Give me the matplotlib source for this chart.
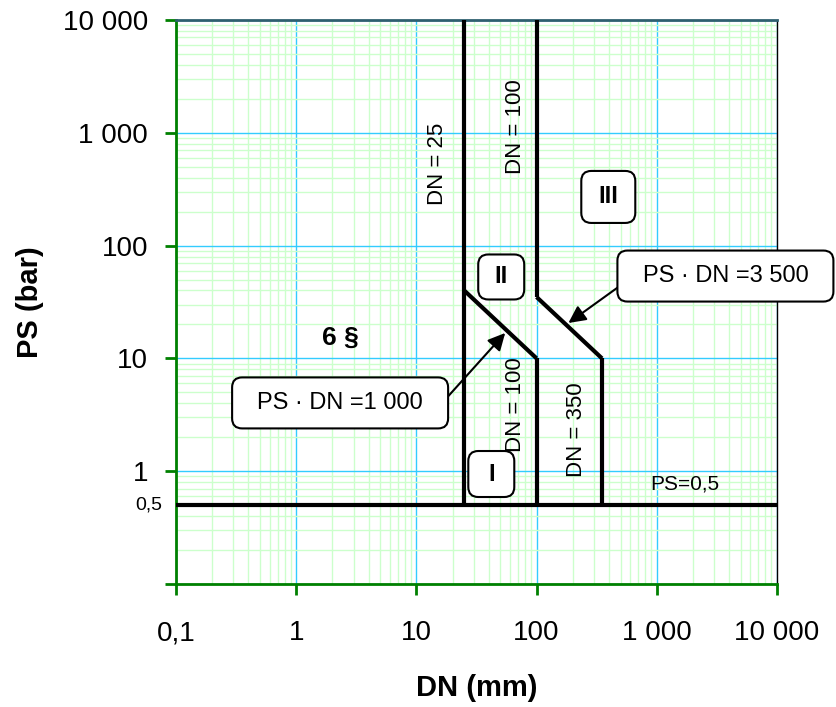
import matplotlib.pyplot as plt
from matplotlib.ticker import NullFormatter, LogLocator
from matplotlib.patches import FancyBboxPatch
from matplotlib.transforms import ScaledTranslation, IdentityTransform

plt.rcParams['font.family'] = ['Liberation Sans', 'DejaVu Sans']

# Grenzlinien (DN in mm, PS in bar)
ps_limit_dn = [0.1, 10000]
ps_limit_ps = [0.5, 0.5]
dn25_dn = [25, 25]
dn25_ps = [0.5, 10000]
pd1000_dn = [25, 100]
pd1000_ps = [40, 10]
dn100_low_dn = [100, 100]
dn100_low_ps = [0.5, 10]
dn100_up_dn = [100, 100]
dn100_up_ps = [35, 10000]
pd3500_dn = [100, 350]
pd3500_ps = [35, 10]
dn350_dn = [350, 350]
dn350_ps = [0.5, 10]

x_ticks = [0.1, 1, 10, 100, 1000, 10000]
x_labels = ['0,1', '1', '10', '100', '1 000', '10 000']
y_ticks = [0.1, 1, 10, 100, 1000, 10000]
y_labels = ['', '1', '10', '100', '1 000', '10 000']

fig = plt.figure(figsize=(8.36, 7.07), dpi=100)
ax = fig.add_axes([0.2105, 0.174, 0.7189, 0.7977])
ax.set_xscale('log')
ax.set_yscale('log')
ax.set_xlim(0.1, 10000)
ax.set_ylim(0.1, 10000)

# Gitter
ax.xaxis.set_minor_locator(LogLocator(base=10, subs=range(2, 10), numticks=20))
ax.yaxis.set_minor_locator(LogLocator(base=10, subs=range(2, 10), numticks=20))
ax.xaxis.set_minor_formatter(NullFormatter())
ax.yaxis.set_minor_formatter(NullFormatter())
ax.grid(which='minor', color='#ccffcc', lw=1)
ax.grid(which='major', color='#33ccff', lw=1)
ax.set_axisbelow(True)

lw = 3
for xs, ys in [(ps_limit_dn, ps_limit_ps), (dn25_dn, dn25_ps), (pd1000_dn, pd1000_ps),
               (dn100_low_dn, dn100_low_ps), (dn100_up_dn, dn100_up_ps),
               (pd3500_dn, pd3500_ps), (dn350_dn, dn350_ps)]:
    ax.plot(xs, ys, color='black', lw=lw, solid_capstyle='butt', clip_on=False, zorder=3)

ax.set_xticks(x_ticks)
ax.set_xticklabels(x_labels, fontsize=20)
ax.set_yticks(y_ticks)
ax.set_yticklabels(y_labels, fontsize=20)
ax.tick_params(which='major', direction='out', length=8, width=2, color='#008000')
ax.tick_params(axis='x', pad=18)
ax.tick_params(axis='y', pad=12)
ax.tick_params(which='minor', length=0)
# 0,5 label next to the axis
ax.text(-0.023, 0.5, '0,5', fontsize=14, ha='right', va='center',
        transform=ax.get_yaxis_transform())

for side in ['left', 'bottom']:
    ax.spines[side].set_color('#008000')
    ax.spines[side].set_linewidth(2)
ax.spines['top'].set_color('#2f6070')
ax.spines['top'].set_linewidth(2)
ax.spines['right'].set_color('black')
ax.spines['right'].set_linewidth(1)

ax.set_xlabel('DN (mm)', fontsize=21, fontweight='bold', labelpad=20)
ax.set_ylabel('PS (bar)', fontsize=21, fontweight='bold', labelpad=14)

# Beschriftungen
ax.text(14.9, 529, 'DN = 25', rotation=90, fontsize=16, ha='center', va='center')
ax.text(66.5, 1125, 'DN = 100', rotation=90, fontsize=16, ha='center', va='center')
ax.text(66.5, 3.86, 'DN = 100', rotation=90, fontsize=16, ha='center', va='center')
ax.text(214, 2.32, 'DN = 350', rotation=90, fontsize=16, ha='center', va='center')
ax.text(1700, 0.77, 'PS=0,5', fontsize=15, ha='center', va='center')
ax.text(2.32, 15.2, '6 §', fontsize=19, fontweight='bold', ha='center', va='center')


def box_at(xx, yy, w, h, z=4):
    # abgerundeter Kasten, Groesse in Pixeln, Mitte in Datenkoordinaten
    tr = IdentityTransform() + ScaledTranslation(xx, yy, ax.transData)
    p = FancyBboxPatch((-w / 2, -h / 2), w, h, boxstyle='round,pad=0,rounding_size=10',
                       fc='white', ec='black', lw=1.5, transform=tr, zorder=z, clip_on=False)
    ax.add_patch(p)


# Bereiche I, II, III
for txt, xx, yy, w, h in [('I', 42, 0.944, 46, 46), ('II', 50.8, 52.7, 46, 45),
                          ('III', 395, 270, 54, 52)]:
    box_at(xx, yy, w, h)
    ax.text(xx, yy, txt, fontsize=17, fontweight='bold', ha='center', va='center', zorder=5)

arrow = dict(arrowstyle='-|>', color='black', lw=1.5, mutation_scale=26, shrinkA=0, shrinkB=0)
for txt, tip, center, tail in [('PS · DN =3 500', (184, 20.6), (3724, 53.7), (480, 43)),
                               ('PS · DN =1 000', (54.8, 16.8), (2.32, 4.03), (18.0, 4.5))]:
    box_at(center[0], center[1], 216, 51)
    ax.text(center[0], center[1], txt, fontsize=17, ha='center', va='center', zorder=5)
    ax.annotate('', xy=tip, xytext=tail, arrowprops=arrow, zorder=3.5)

plt.savefig('out.png', dpi=100)
